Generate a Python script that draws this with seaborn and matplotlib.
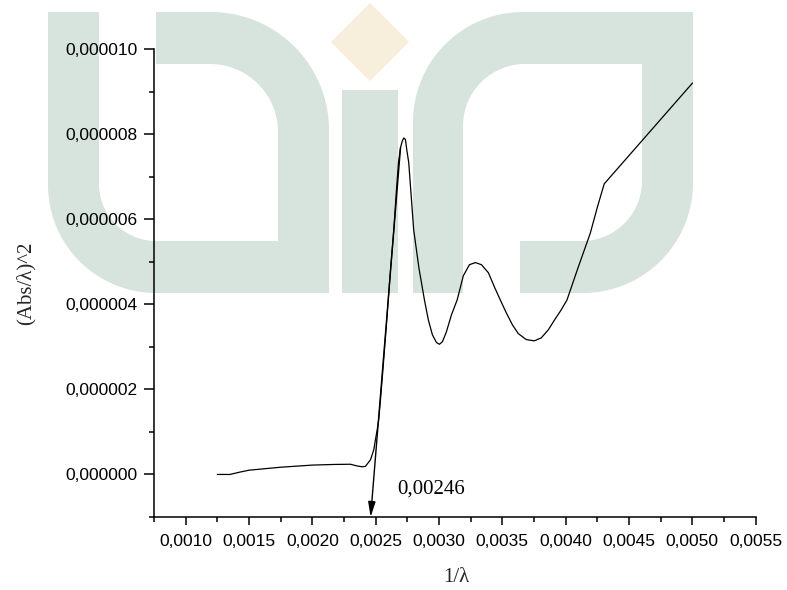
import numpy as np
import matplotlib
matplotlib.use("Agg")
import matplotlib.pyplot as plt
from matplotlib.patches import Polygon
from matplotlib.ticker import FuncFormatter
import seaborn as sns

# Tauc-style data: 1/lambda against (Abs/lambda)^2
inv_lambda = [
    0.00125, 0.00135, 0.00142, 0.00150, 0.00175, 0.00200, 0.00217, 0.00230,
    0.002354, 0.002393, 0.002419, 0.002459, 0.002485, 0.002498, 0.002512,
    0.002524, 0.002538, 0.002557, 0.002585, 0.002617, 0.002643, 0.002664,
    0.00268, 0.002696, 0.002709, 0.002722, 0.002735, 0.002747, 0.002761,
    0.0028, 0.002841, 0.002885, 0.002916, 0.002948, 0.00298, 0.003003,
    0.003027, 0.003058, 0.003098, 0.003143, 0.003192, 0.00324, 0.003287,
    0.003335, 0.00339, 0.003437, 0.003484, 0.003531, 0.003579, 0.003626,
    0.003689, 0.003752, 0.003807, 0.003863, 0.003918, 0.003965, 0.00401,
    0.0041, 0.004194, 0.004249, 0.004304, 0.005001,
]
abs_sq = [
    0.0, 0.0, 0.05e-6, 0.10e-6, 0.17e-6, 0.22e-6, 0.235e-6, 0.24e-6,
    0.20e-6, 0.18e-6, 0.19e-6, 0.345e-6, 0.58e-6, 0.815e-6, 1.05e-6,
    1.29e-6, 1.76e-6, 2.46e-6, 3.52e-6, 4.81e-6, 5.75e-6, 6.69e-6,
    7.33e-6, 7.68e-6, 7.83e-6, 7.91e-6, 7.87e-6, 7.60e-6, 7.33e-6,
    5.75e-6, 4.86e-6, 4.10e-6, 3.63e-6, 3.28e-6, 3.10e-6, 3.06e-6,
    3.12e-6, 3.35e-6, 3.75e-6, 4.10e-6, 4.67e-6, 4.93e-6, 4.98e-6,
    4.93e-6, 4.74e-6, 4.41e-6, 4.10e-6, 3.80e-6, 3.52e-6, 3.31e-6,
    3.17e-6, 3.14e-6, 3.21e-6, 3.40e-6, 3.66e-6, 3.87e-6, 4.10e-6,
    4.88e-6, 5.67e-6, 6.27e-6, 6.83e-6, 9.20e-6,
]

# Band-gap tangent: start point on the absorption edge and x-axis intercept
tangent_start = (0.002696, 7.68e-6)
band_gap = 0.00246
band_gap_label = "0,00246"

x_label = "1/\u03bb"
y_label = "(Abs/\u03bb)^2"

sns.set_style("ticks")
plt.rcParams["font.family"] = ["Liberation Sans", "DejaVu Sans"]
SERIF = ["Liberation Serif", "DejaVu Serif"]

W, H = 787, 590
fig = plt.figure(figsize=(W / 100, H / 100), dpi=100)
fig.patch.set_facecolor("white")

# ---- background logo, laid out in pixel coordinates ----
bg = fig.add_axes([0, 0, 1, 1], zorder=-1)
bg.set_xlim(0, W)
bg.set_ylim(H, 0)
bg.axis("off")

GREEN = "#d6e4dd"
CREAM = "#f7eedb"


def rounded_rect(x0, y0, x1, y1, r_tl=0, r_tr=0, r_br=0, r_bl=0, n=30):
    pts = []

    def corner(cx, cy, r, t0, t1, px, py):
        if r <= 0:
            pts.append((px, py))
            return
        for t in np.linspace(np.radians(t0), np.radians(t1), n):
            pts.append((cx + r * np.cos(t), cy + r * np.sin(t)))

    corner(x0 + r_tl, y0 + r_tl, r_tl, 180, 270, x0, y0)
    corner(x1 - r_tr, y0 + r_tr, r_tr, 270, 360, x1, y0)
    corner(x1 - r_br, y1 - r_br, r_br, 0, 90, x1, y1)
    corner(x0 + r_bl, y1 - r_bl, r_bl, 90, 180, x0, y1)
    return pts


def shape(pts, color):
    bg.add_patch(Polygon(pts, closed=True, facecolor=color, edgecolor="none"))


# left glyph
shape(rounded_rect(48, 12, 329, 293, r_tr=118, r_bl=108), GREEN)
shape(rounded_rect(99, 64, 278, 241, r_tr=68, r_bl=57), "white")
shape(rounded_rect(99, 11, 156, 64), "white")
# "i" stem and diamond
shape(rounded_rect(342, 90, 398, 293), GREEN)
shape([(370, 3), (409, 42), (370, 81), (331, 42)], CREAM)
# right glyph
shape(rounded_rect(413, 12, 693, 293, r_tl=110, r_br=110), GREEN)
shape(rounded_rect(463, 64, 642, 241, r_tl=62, r_br=60), "white")
shape(rounded_rect(463, 241, 520, 294), "white")

# ---- main plot ----
ax = fig.add_axes([154 / W, 1 - 517 / H, (755.7 - 154) / W, (517 - 49) / H])
ax.set_facecolor("none")

sns.lineplot(x=inv_lambda, y=abs_sq, ax=ax, color="black", linewidth=0.9,
             estimator=None, sort=False)

ax.annotate("", xy=(band_gap, -1e-6), xytext=tangent_start,
            arrowprops=dict(arrowstyle="-|>,head_length=0.9,head_width=0.22",
                            color="black", lw=1.0, shrinkA=0, shrinkB=0,
                            mutation_scale=10))
ax.text(0.00267, -0.34e-6, band_gap_label, ha="left", va="center",
        fontsize=15, family=SERIF, color="black")

ax.set_xlim(0.00075, 0.0055)
ax.set_ylim(-1e-6, 1e-5)

ax.set_xticks(np.arange(0.0010, 0.00551, 0.0005))
ax.set_xticks(np.arange(0.00075, 0.0055, 0.0005), minor=True)
ax.set_yticks(np.arange(0, 1.01e-5, 2e-6))
ax.set_yticks(np.arange(-1e-6, 1e-5, 2e-6), minor=True)

ax.xaxis.set_major_formatter(FuncFormatter(lambda v, p: f"{v:.4f}".replace(".", ",")))
ax.yaxis.set_major_formatter(FuncFormatter(
    lambda v, p: f"{abs(v) if abs(v) < 1e-12 else v:.6f}".replace(".", ",")))

for side in ("top", "right"):
    ax.spines[side].set_visible(False)
for side in ("left", "bottom"):
    ax.spines[side].set_linewidth(1.1)
    ax.spines[side].set_color("black")

ax.tick_params(axis="both", which="both", direction="out", color="black",
               width=1.1, labelsize=12.5, labelcolor="black")
ax.tick_params(axis="x", which="major", length=6, pad=6)
ax.tick_params(axis="y", which="major", length=7, pad=5)
ax.tick_params(axis="both", which="minor", length=3.5)

ax.set_xlabel(x_label, fontsize=15, family=SERIF)
ax.set_ylabel(y_label, fontsize=15, family=SERIF)
ax.xaxis.set_label_coords(0.502, -0.13)
ax.xaxis.label.set_va("center")
ax.yaxis.set_label_coords(-0.213, 0.5)
ax.yaxis.label.set_va("center")

fig.savefig("out.png", dpi=100)
